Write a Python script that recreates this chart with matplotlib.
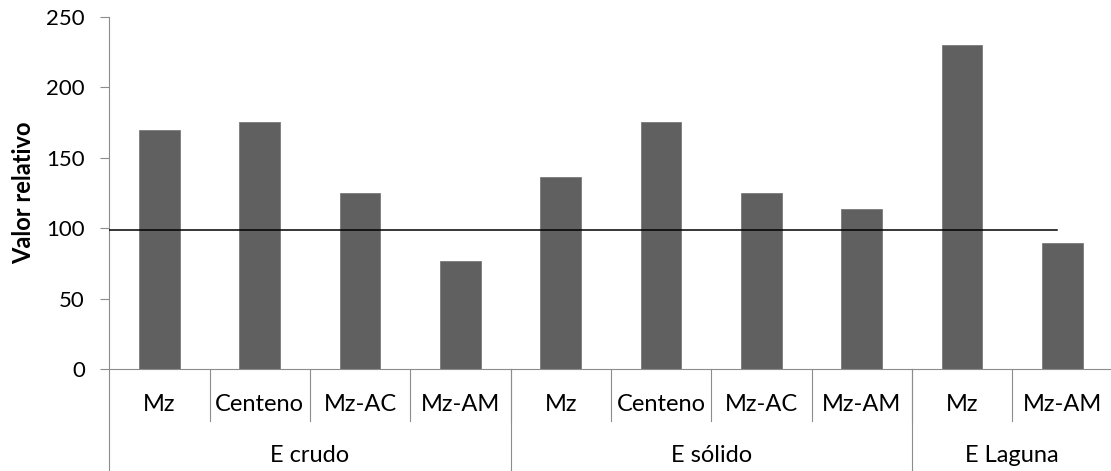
import matplotlib.pyplot as plt
from matplotlib.lines import Line2D
import matplotlib.transforms as mtransforms

plt.rcParams['font.family'] = ['Lato', 'DejaVu Sans']

# datos del grafico
categorias = ["Mz", "Centeno", "Mz-AC", "Mz-AM",
              "Mz", "Centeno", "Mz-AC", "Mz-AM",
              "Mz", "Mz-AM"]
valores = [170, 175, 125, 76.5,
           136, 175, 125, 114,
           230, 89.5]
grupos = ["E crudo", "E sólido", "E Laguna"]
tam_grupos = [4, 4, 2]
referencia = 99

color_barra = "#606060"
color_eje = "#8c8c8c"

fig = plt.figure(figsize=(11.11, 4.71), dpi=100)
ax = fig.add_axes([0.0984, 0.2159, 0.9030, 0.7487])

x = list(range(len(categorias)))
ax.bar(x, valores, width=0.405, color=color_barra, edgecolor="#7a7a7a", linewidth=0.6, zorder=2)

# linea de referencia
ax.plot([-0.5, 8.95], [referencia, referencia], color="black", linewidth=1.1, zorder=3)

ax.set_xlim(-0.5, len(categorias) - 0.5)
ax.set_ylim(0, 250)
ax.set_yticks([0, 50, 100, 150, 200, 250])
ax.tick_params(axis='y', direction='out', length=6.5, width=0.8, color=color_eje,
               labelsize=16, pad=11)
ax.set_xticks([])

for s in ['top', 'right']:
    ax.spines[s].set_visible(False)
for s in ['left', 'bottom']:
    ax.spines[s].set_color(color_eje)
    ax.spines[s].set_linewidth(0.8)

ax.set_ylabel("Valor relativo", fontsize=17, fontweight='bold', labelpad=8)

# eje de categorias en dos niveles
trans = mtransforms.blended_transform_factory(ax.transData, ax.transAxes)
for i, cat in enumerate(categorias):
    ax.text(i, -0.10, cat, transform=trans, ha='center', va='center', fontsize=17)
    if i > 0:
        ax.add_line(Line2D([i - 0.5, i - 0.5], [0, -0.146], transform=trans,
                           color=color_eje, linewidth=0.8, clip_on=False))

inicio = 0
for g, n in zip(grupos, tam_grupos):
    centro = inicio + (n - 1) / 2
    ax.text(centro, -0.243, g, transform=trans, ha='center', va='center', fontsize=17)
    borde = inicio - 0.5
    ax.add_line(Line2D([borde, borde], [0, -0.32], transform=trans,
                       color=color_eje, linewidth=0.8, clip_on=False))
    inicio += n
ax.add_line(Line2D([inicio - 0.5, inicio - 0.5], [0, -0.32], transform=trans,
                   color=color_eje, linewidth=0.8, clip_on=False))

fig.savefig("out.png", dpi=100)
